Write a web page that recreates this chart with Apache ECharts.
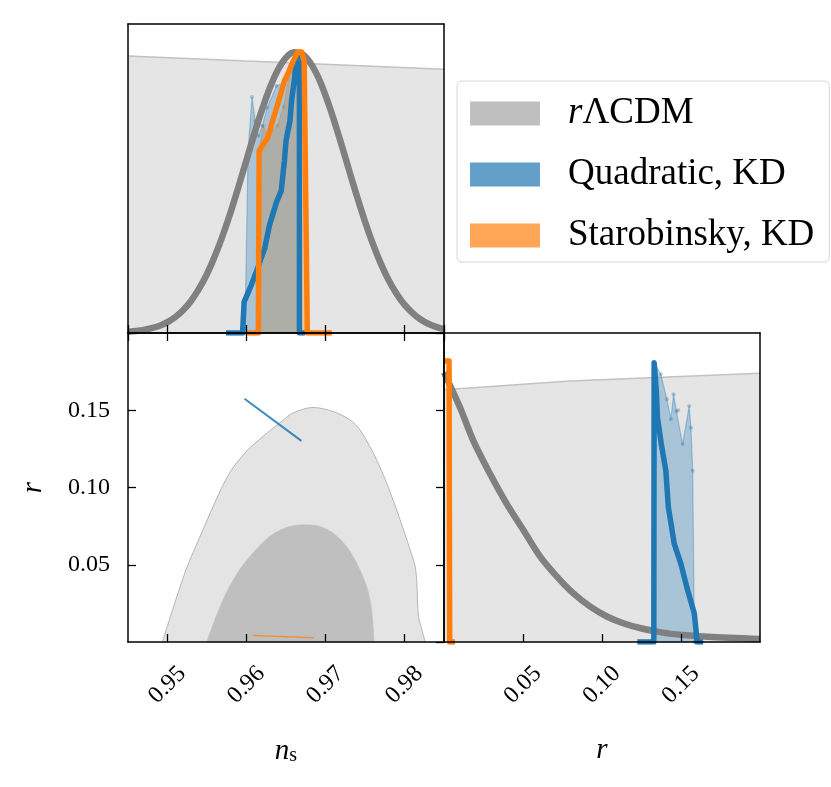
<!DOCTYPE html>
<html><head><meta charset="utf-8">
<script src="https://cdn.jsdelivr.net/npm/echarts@6/dist/echarts.min.js"></script>
<style>html,body{margin:0;padding:0;background:#fff}#c{width:831px;height:787px}</style>
</head><body><div id="c"></div>
<script>
// ---------- data ----------
const legendNames = ['rΛCDM', 'Quadratic, KD', 'Starobinsky, KD'];
const legendColors = ['#bfbfbf', '#62a0ca', '#ffa556'];
const nsTickLabels = ['0.95', '0.96', '0.97', '0.98'];
const rTickLabels = ['0.05', '0.10', '0.15'];

// n_s marginal, rΛCDM (grey)
const nsGrayX = [0.945,0.946,0.947,0.948,0.949,0.950,0.951,0.952,0.953,0.954,0.955,0.956,0.957,0.958,0.959,0.960,0.961,0.962,0.963,0.964,0.965,0.966,0.967,0.968,0.969,0.970,0.971,0.972,0.973,0.974,0.975,0.976,0.977,0.978,0.979,0.980,0.981,0.982,0.983,0.984,0.985];
const nsGrayY = [0.004,0.007,0.011,0.017,0.026,0.039,0.057,0.082,0.115,0.158,0.210,0.274,0.348,0.431,0.522,0.616,0.710,0.798,0.876,0.938,0.980,0.999,0.994,0.965,0.915,0.846,0.764,0.673,0.578,0.485,0.397,0.317,0.247,0.188,0.140,0.101,0.072,0.049,0.033,0.022,0.014];
// n_s broad light-grey band
const nsBandX = [0.945, 0.960, 0.985];
const nsBandY = [0.986, 0.968, 0.939];
// n_s, Quadratic KD (thick line)
const nsQuadX = [0.9574,0.9595,0.9597,0.9606,0.9614,0.9623,0.9629,0.9638,0.9644,0.9648,0.9650,0.9655,0.9657,0.9661,0.9663,0.9667,0.9667,0.9674];
const nsQuadY = [0,0,0.111,0.170,0.230,0.301,0.383,0.466,0.507,0.613,0.684,0.755,0.826,0.909,0.985,0.985,0,0];
// n_s, Quadratic KD (shaded histogram)
const nsQuadHistX = [0.9598,0.9602,0.9607,0.9611,0.9615,0.9620,0.9626,0.9638,0.9646,0.9655,0.9662,0.9667,0.9667];
const nsQuadHistY = [0,0.649,0.840,0.755,0.702,0.738,0.802,0.879,0.890,0.950,0.996,0.996,0];
// n_s, Starobinsky KD (thick line)
const nsStaroX = [0.9601,0.9615,0.9616,0.9627,0.9633,0.9642,0.9648,0.9653,0.9659,0.9665,0.9670,0.9673,0.9677,0.9708];
const nsStaroY = [0,0,0.649,0.696,0.755,0.838,0.897,0.927,0.968,1.0,1.0,0.965,0,0];
// n_s, Starobinsky KD (shaded histogram)
const nsStaroHistX = [0.9615,0.9616,0.9621,0.9627,0.9639,0.9647,0.9655,0.9665,0.9670,0.9677];
const nsStaroHistY = [0,0.649,0.738,0.700,0.738,0.805,0.930,1.0,1.0,0];

// r marginal, rΛCDM
const rGrayX = [0,0.0102,0.0186,0.0292,0.0398,0.0504,0.0610,0.0716,0.0821,0.0928,0.1034,0.1139,0.1245,0.1351,0.1457,0.1669,0.2];
const rGrayY = [0.960,0.834,0.716,0.598,0.491,0.397,0.303,0.232,0.172,0.125,0.090,0.066,0.049,0.037,0.028,0.019,0.011];
const rBandX = [0, 0.08, 0.2];
const rBandY = [0.898, 0.929, 0.957];
// r, Quadratic KD
const rQuadX = [0.1224,0.1328,0.1330,0.1344,0.1351,0.1375,0.1404,0.1420,0.1457,0.1499,0.1542,0.1584,0.1595,0.1601,0.1640];
const rQuadY = [0,0,0.994,0.894,0.799,0.706,0.610,0.480,0.350,0.279,0.184,0.102,0.043,0,0];
const rQuadHistX = [0.1326,0.1328,0.1330,0.1372,0.1411,0.1436,0.1453,0.1471,0.1482,0.1510,0.1552,0.1563,0.1574,0.1585];
const rQuadHistY = [0,0.96,0.994,0.953,0.864,0.793,0.882,0.821,0.825,0.705,0.840,0.763,0.610,0];
// r, Starobinsky KD
const rStaroX = [0, 0.0032, 0.0036, 0.007];
const rStaroY = [1.0, 1.0, 0, 0];

// 2D (n_s, r) rΛCDM contours
const c95X = [0.94936,0.95064,0.95234,0.95403,0.95615,0.95784,0.95996,0.96207,0.96419,0.96588,0.96842,0.97097,0.97309,0.97436,0.97605,0.97775,0.97944,0.98071,0.98135,0.98156,0.98177,0.98220,0.98262];
const c95Y = [0,0.0208,0.0467,0.0672,0.0920,0.1093,0.1233,0.1330,0.1417,0.1482,0.1518,0.1492,0.1438,0.1373,0.1223,0.1028,0.0791,0.0597,0.0489,0.0381,0.0165,0.0079,0];
const c68X = [0.95496,0.95615,0.95742,0.95911,0.96080,0.96292,0.96504,0.96715,0.96928,0.97097,0.97267,0.97394,0.97521,0.97584,0.97614];
const c68Y = [0,0.0165,0.0316,0.0467,0.0575,0.0683,0.0741,0.0759,0.0748,0.0705,0.0618,0.0511,0.0359,0.0208,0];
// 2D model tracks
const quad2dX = [0.95975, 0.96695];
const quad2dY = [0.1574, 0.1302];
const staro2dX = [0.9608, 0.96855];
const staro2dY = [0.0042, 0.0027];

// ---------- chart ----------
const SERIF = '"Liberation Serif", "DejaVu Serif", serif';
const BLUE = '#1f77b4', ORANGE = '#ff7f0e', GRAY = '#808080';
const NS = [0.945, 0.985], R = [0, 0.2], P = [0, 1.1];
const pairs = (xs, ys) => xs.map((x, i) => [x, ys[i]]);

const grids = [
  {left: 128, top: 24, width: 316, height: 309},
  {left: 128, top: 333, width: 316, height: 309},
  {left: 444, top: 333, width: 316, height: 309}
];

function axis(gridIndex, position, range, o) {
  o = o || {};
  const a = {
    type: 'value', gridIndex, position, min: range[0], max: range[1], z: 10,
    splitNumber: 4,
    axisLine: {show: true, onZero: false, lineStyle: {color: '#000', width: 1.5}},
    axisTick: {show: !!o.ticks, inside: true, length: 8, lineStyle: {color: '#000', width: 1.3}},
    axisLabel: {show: false},
    splitLine: {show: false}
  };
  if (o.interval) a.interval = o.interval;
  if (o.labels) {
    a.axisLabel = Object.assign({
      show: true, showMinLabel: false, showMaxLabel: false,
      fontFamily: SERIF, fontSize: 24, color: '#000',
      formatter: v => {
        const s = v.toFixed(2);
        return o.labels.indexOf(s) >= 0 ? s : '';
      }
    }, o.labelOpts || {});
  }
  if (o.name) Object.assign(a, o.name);
  return a;
}

const rotLabel = {rotate: 45, align: 'center', verticalAlign: 'middle', margin: 43};

const xAxis = [
  axis(0, 'bottom', NS, {ticks: true}),
  axis(0, 'top', NS),
  axis(1, 'bottom', NS, {ticks: true, labels: nsTickLabels, labelOpts: rotLabel, name: {
    name: '{it|n}{sub|s}', nameLocation: 'middle', nameGap: 94,
    nameTextStyle: {fontFamily: SERIF, color: '#000', rich: {
      it: {fontFamily: SERIF, fontStyle: 'italic', fontSize: 29, color: '#000'},
      sub: {fontFamily: SERIF, fontSize: 20, color: '#000', verticalAlign: 'bottom', padding: [10, 0, 0, 0]}
    }}
  }}),
  axis(1, 'top', NS, {ticks: true}),
  axis(2, 'bottom', R, {ticks: true, interval: 0.05, labels: rTickLabels, labelOpts: rotLabel, name: {
    name: 'r', nameLocation: 'middle', nameGap: 94,
    nameTextStyle: {fontFamily: SERIF, fontStyle: 'italic', fontSize: 29, color: '#000'}
  }}),
  axis(2, 'top', R)
];
const yAxis = [
  axis(0, 'left', P),
  axis(0, 'right', P),
  axis(1, 'left', R, {ticks: true, interval: 0.05, labels: rTickLabels, labelOpts: {margin: 18}, name: {
    name: 'r', nameLocation: 'middle', nameGap: 80, nameRotate: 90,
    nameTextStyle: {fontFamily: SERIF, fontStyle: 'italic', fontSize: 29, color: '#000'}
  }}),
  axis(1, 'right', R, {ticks: true, interval: 0.05}),
  axis(2, 'left', P),
  axis(2, 'right', P)
];

function line(name, xi, yi, xs, ys, o) {
  return Object.assign({
    type: 'line', name, xAxisIndex: xi, yAxisIndex: yi, data: pairs(xs, ys),
    showSymbol: false, symbol: 'none', silent: true, clip: true, animation: false
  }, o);
}
function thick(name, xi, yi, xs, ys, color, width, z, smooth) {
  return line(name, xi, yi, xs, ys, {z, smooth: smooth || false,
    lineStyle: {color, width, cap: 'butt', join: 'round'}, itemStyle: {color}});
}
function shade(name, xi, yi, xs, ys, color, z) {
  return line(name, xi, yi, xs, ys, {z, showSymbol: true, symbol: 'circle', symbolSize: 4,
    itemStyle: {color, opacity: 0.35},
    lineStyle: {color, width: 1.2, opacity: 0.35},
    areaStyle: {color, opacity: 0.3}});
}
function band(name, xi, yi, xs, ys, z) {
  return line(name, xi, yi, xs, ys, {z,
    lineStyle: {color: '#c2c2c2', width: 1.5},
    areaStyle: {color: '#e5e5e5', opacity: 1}});
}

const series = [
  // top-left: n_s marginal
  band('ns band', 0, 0, nsBandX, nsBandY, 1),
  shade('ns staro hist', 0, 0, nsStaroHistX, nsStaroHistY, ORANGE, 2),
  shade('ns quad hist', 0, 0, nsQuadHistX, nsQuadHistY, BLUE, 3),
  thick('ns gray', 0, 0, nsGrayX, nsGrayY, GRAY, 6.5, 4, 0.3),
  thick('ns quad', 0, 0, nsQuadX, nsQuadY, BLUE, 5.5, 5),
  thick('ns staro', 0, 0, nsStaroX, nsStaroY, ORANGE, 5.5, 6),
  // bottom-left: 2D
  line('c95', 2, 2, c95X, c95Y, {z: 1, smooth: 0.3,
    lineStyle: {color: '#b5b5b5', width: 1}, areaStyle: {color: '#e4e4e4', opacity: 1}}),
  line('c68', 2, 2, c68X, c68Y, {z: 2, smooth: 0.3,
    lineStyle: {color: '#bfbfbf', width: 0.5}, areaStyle: {color: '#bfbfbf', opacity: 1}}),
  line('quad2d', 2, 2, quad2dX, quad2dY, {z: 3, lineStyle: {color: BLUE, width: 2, opacity: 0.85}}),
  line('staro2d', 2, 2, staro2dX, staro2dY, {z: 3, lineStyle: {color: ORANGE, width: 1.5, opacity: 0.7}}),
  // bottom-right: r marginal
  band('r band', 4, 4, rBandX, rBandY, 1),
  shade('r quad hist', 4, 4, rQuadHistX, rQuadHistY, BLUE, 3),
  thick('r gray', 4, 4, rGrayX, rGrayY, GRAY, 6.5, 4, 0.3),
  thick('r quad', 4, 4, rQuadX, rQuadY, BLUE, 5.5, 5),
  thick('r staro', 4, 4, rStaroX, rStaroY, ORANGE, 5.5, 6)
].concat(legendNames.map((n, i) => ({
  // legend entries (no data)
  type: 'scatter', name: n, xAxisIndex: 4, yAxisIndex: 4, data: [],
  itemStyle: {color: legendColors[i], opacity: 1}
})));

const chart = echarts.init(document.getElementById('c'), null, {renderer: 'canvas'});
chart.setOption({
  animation: false,
  backgroundColor: '#fff',
  textStyle: {fontFamily: SERIF},
  grid: grids,
  xAxis, yAxis, series,
  legend: {
    show: true, orient: 'vertical', left: 457, top: 81,
    data: legendNames.map((n, i) => ({name: n, icon: 'rect', itemStyle: {color: legendColors[i], opacity: 1}})),
    selectedMode: false,
    itemWidth: 70, itemHeight: 24, itemGap: 24,
    padding: [14, 15, 8, 13],
    borderColor: '#d6d6d6', borderWidth: 1, borderRadius: 5,
    backgroundColor: 'rgba(255,255,255,0.8)',
    formatter: n => n === legendNames[0] ? '{it|r}ΛCDM' : n,
    textStyle: {
      fontFamily: SERIF, fontSize: 37, color: '#000', lineHeight: 24, padding: [0, 0, 0, 23],
      rich: {it: {fontFamily: SERIF, fontStyle: 'italic', fontSize: 37, color: '#000', lineHeight: 24}}
    }
  }
});
</script></body></html>
